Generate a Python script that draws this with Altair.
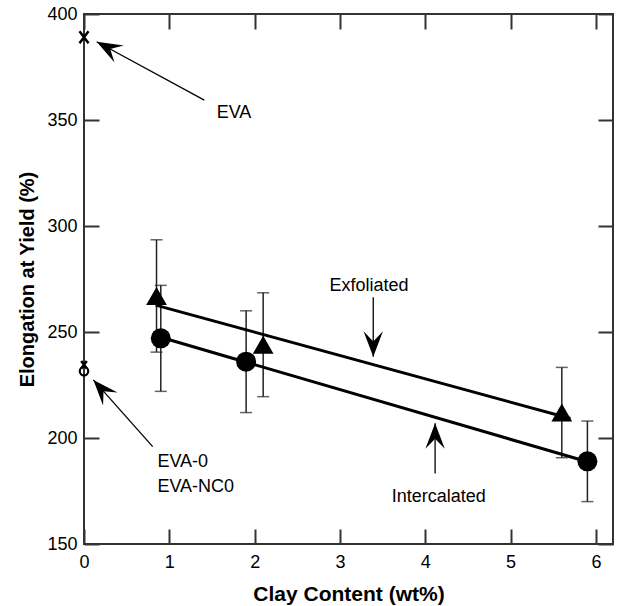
import math
import altair as alt
import pandas as pd

# ---------------- data ----------------
circle_x = [0.9, 1.9, 5.9]          # intercalated
circle_y = [247, 236, 189]
circle_err = [25, 24, 19]

tri_x = [0.85, 2.1, 5.6]            # exfoliated
tri_y = [267, 244, 212]
tri_err = [26.5, 24.5, 21.3]

fit_exf_x = [0.84, 5.7]
fit_exf_y = [262.7, 209.2]
fit_int_x = [0.9, 5.9]
fit_int_y = [247.5, 188.8]

cross_x = [0, 0]                    # EVA, EVA-NC0
cross_y = [389, 234.5]
cross_size = [144, 56]
ring_x = [0]                        # EVA-0
ring_y = [231.5]

label_text = ["EVA", "EVA-0", "EVA-NC0", "Exfoliated", "Intercalated"]
label_x = [1.555, 0.86, 0.86, 2.876, 3.607]
label_y = [353.2, 188.8, 176.7, 271.7, 172.3]

arrow_tail_x = [1.41, 0.805, 3.39, 4.115]
arrow_tail_y = [359.4, 195.9, 266.4, 183.3]
arrow_tip_x = [0.149, 0.11, 3.39, 4.115]
arrow_tip_y = [386.9, 227.4, 238.3, 206.9]

x_ticks = [0, 1, 2, 3, 4, 5, 6]
y_ticks = [150, 200, 250, 300, 350, 400]
x_domain = [0, 6.2]
y_domain = [150, 400]

# ---------------- layout ----------------
W, H = 529, 530
FONT = "Liberation Sans"
px_x = W / (x_domain[1] - x_domain[0])
px_y = H / (y_domain[1] - y_domain[0])

xs = alt.Scale(domain=x_domain, nice=False, zero=False)
ys = alt.Scale(domain=y_domain, nice=False, zero=False)

# ---------------- tables ----------------
err_df = pd.DataFrame({
    "x": circle_x + tri_x,
    "lo": [y - e for y, e in zip(circle_y, circle_err)] + [y - e for y, e in zip(tri_y, tri_err)],
    "hi": [y + e for y, e in zip(circle_y, circle_err)] + [y + e for y, e in zip(tri_y, tri_err)],
})
cap_df = pd.DataFrame({
    "x": list(err_df["x"]) * 2,
    "y": list(err_df["lo"]) + list(err_df["hi"]),
})
circ_df = pd.DataFrame({"x": circle_x, "y": circle_y})
tri_df = pd.DataFrame({"x": tri_x, "y": tri_y})
fit_df = pd.DataFrame({
    "x": fit_exf_x + fit_int_x,
    "y": fit_exf_y + fit_int_y,
    "s": ["Exfoliated"] * 2 + ["Intercalated"] * 2,
})
cross_df = pd.DataFrame({"x": cross_x, "y": cross_y, "size": cross_size})
ring_df = pd.DataFrame({"x": ring_x, "y": ring_y})
lab_df = pd.DataFrame({"x": label_x, "y": label_y, "t": label_text})

angles = []
for tx, ty, hx, hy in zip(arrow_tail_x, arrow_tail_y, arrow_tip_x, arrow_tip_y):
    dx = (hx - tx) * px_x
    dy = -(hy - ty) * px_y
    angles.append(math.degrees(math.atan2(dy, dx)) % 360)
arr_df = pd.DataFrame({
    "x": arrow_tail_x, "y": arrow_tail_y,
    "x2": arrow_tip_x, "y2": arrow_tip_y,
    "angle": angles,
})

# ---------------- layers ----------------
main_x_axis = alt.Axis(
    values=x_ticks, title="Clay Content (wt%)", ticks=False, tickSize=0, domain=False,
    grid=False, labelPadding=9, labelFontSize=18, labelFont=FONT, labelColor="black",
    labelFlush=False, titleFont=FONT, titleFontSize=21, titleFontWeight="bold",
    titleColor="black", titleY=50, titleBaseline="middle",
)
main_y_axis = alt.Axis(
    values=y_ticks, title="Elongation at Yield (%)", ticks=False, tickSize=0, domain=False,
    grid=False, labelPadding=7, labelFontSize=18, labelFont=FONT, labelColor="black",
    labelFlush=False, titleFont=FONT, titleFontSize=20, titleFontWeight="bold",
    titleColor="black", titleX=-57, titleY=H / 2, titleAngle=270, titleBaseline="middle",
)

err_rules = alt.Chart(err_df).mark_rule(color="#222", strokeWidth=1.5).encode(
    x=alt.X("x:Q", scale=xs, axis=main_x_axis),
    y=alt.Y("lo:Q", scale=ys, axis=main_y_axis),
    y2="hi:Q",
)
caps = alt.Chart(cap_df).mark_tick(orient="horizontal", size=12, thickness=1.5, color="#222").encode(
    x=alt.X("x:Q", scale=xs, axis=None),
    y=alt.Y("y:Q", scale=ys, axis=None),
)
fits = alt.Chart(fit_df).mark_line(color="black", strokeWidth=3).encode(
    x=alt.X("x:Q", scale=xs, axis=None),
    y=alt.Y("y:Q", scale=ys, axis=None),
    detail="s:N",
)
circles = alt.Chart(circ_df).mark_point(shape="circle", filled=True, size=400, color="black", opacity=1).encode(
    x=alt.X("x:Q", scale=xs, axis=None),
    y=alt.Y("y:Q", scale=ys, axis=None),
)
tris = alt.Chart(tri_df).mark_point(shape="triangle-up", filled=True, size=430, color="black", opacity=1).encode(
    x=alt.X("x:Q", scale=xs, axis=None),
    y=alt.Y("y:Q", scale=ys, axis=None),
)
crosses = alt.Chart(cross_df).mark_point(
    shape="M-0.75,-1L0.75,1M0.75,-1L-0.75,1", filled=False, strokeWidth=2.5, color="black", opacity=1
).encode(
    x=alt.X("x:Q", scale=xs, axis=None),
    y=alt.Y("y:Q", scale=ys, axis=None),
    size=alt.Size("size:Q", scale=None, legend=None),
)
rings = alt.Chart(ring_df).mark_point(shape="circle", filled=False, strokeWidth=2.2, size=72, color="black", opacity=1).encode(
    x=alt.X("x:Q", scale=xs, axis=None),
    y=alt.Y("y:Q", scale=ys, axis=None),
)
shafts = alt.Chart(arr_df).mark_rule(color="black", strokeWidth=1.3).encode(
    x=alt.X("x:Q", scale=xs, axis=None),
    y=alt.Y("y:Q", scale=ys, axis=None),
    x2="x2:Q", y2="y2:Q",
)
heads = alt.Chart(arr_df).mark_point(
    shape="M0,0L-1,-0.38L-0.6,0L-1,0.38Z", filled=True, size=2600, color="black", opacity=1, strokeWidth=0
).encode(
    x=alt.X("x2:Q", scale=xs, axis=None),
    y=alt.Y("y2:Q", scale=ys, axis=None),
    angle=alt.Angle("angle:Q", scale=None),
)
labels = alt.Chart(lab_df).mark_text(
    align="left", baseline="middle", fontSize=18, font=FONT, color="black"
).encode(
    x=alt.X("x:Q", scale=xs, axis=None),
    y=alt.Y("y:Q", scale=ys, axis=None),
    text="t:N",
)


def tick_axis(orient, values):
    return alt.Axis(
        orient=orient, values=values, offset=-15, tickSize=15, tickWidth=2, tickColor="#333",
        labels=False, domain=False, grid=False, title="",
    )


def ghost(x_axis, y_axis):
    return alt.Chart(circ_df).mark_point(opacity=0).encode(
        x=alt.X("x:Q", scale=xs, axis=x_axis),
        y=alt.Y("y:Q", scale=ys, axis=y_axis),
    )


tick_left = ghost(None, tick_axis("left", y_ticks))
tick_right = ghost(None, tick_axis("right", y_ticks))
tick_top = ghost(tick_axis("top", x_ticks), None)
tick_bottom = ghost(tick_axis("bottom", x_ticks), None)

chart = alt.layer(
    err_rules, caps, fits, circles, tris, crosses, rings, shafts, heads, labels,
    tick_left, tick_right, tick_top, tick_bottom,
).resolve_axis(x="independent", y="independent").properties(
    width=W, height=H,
    autosize=alt.AutoSizeParams(type="none"),
    padding={"left": 84, "top": 14, "right": 6, "bottom": 62},
    background="white",
).configure_view(stroke="#333", strokeWidth=2)

chart.save("out.html", embed_options={"renderer": "svg", "actions": False})
